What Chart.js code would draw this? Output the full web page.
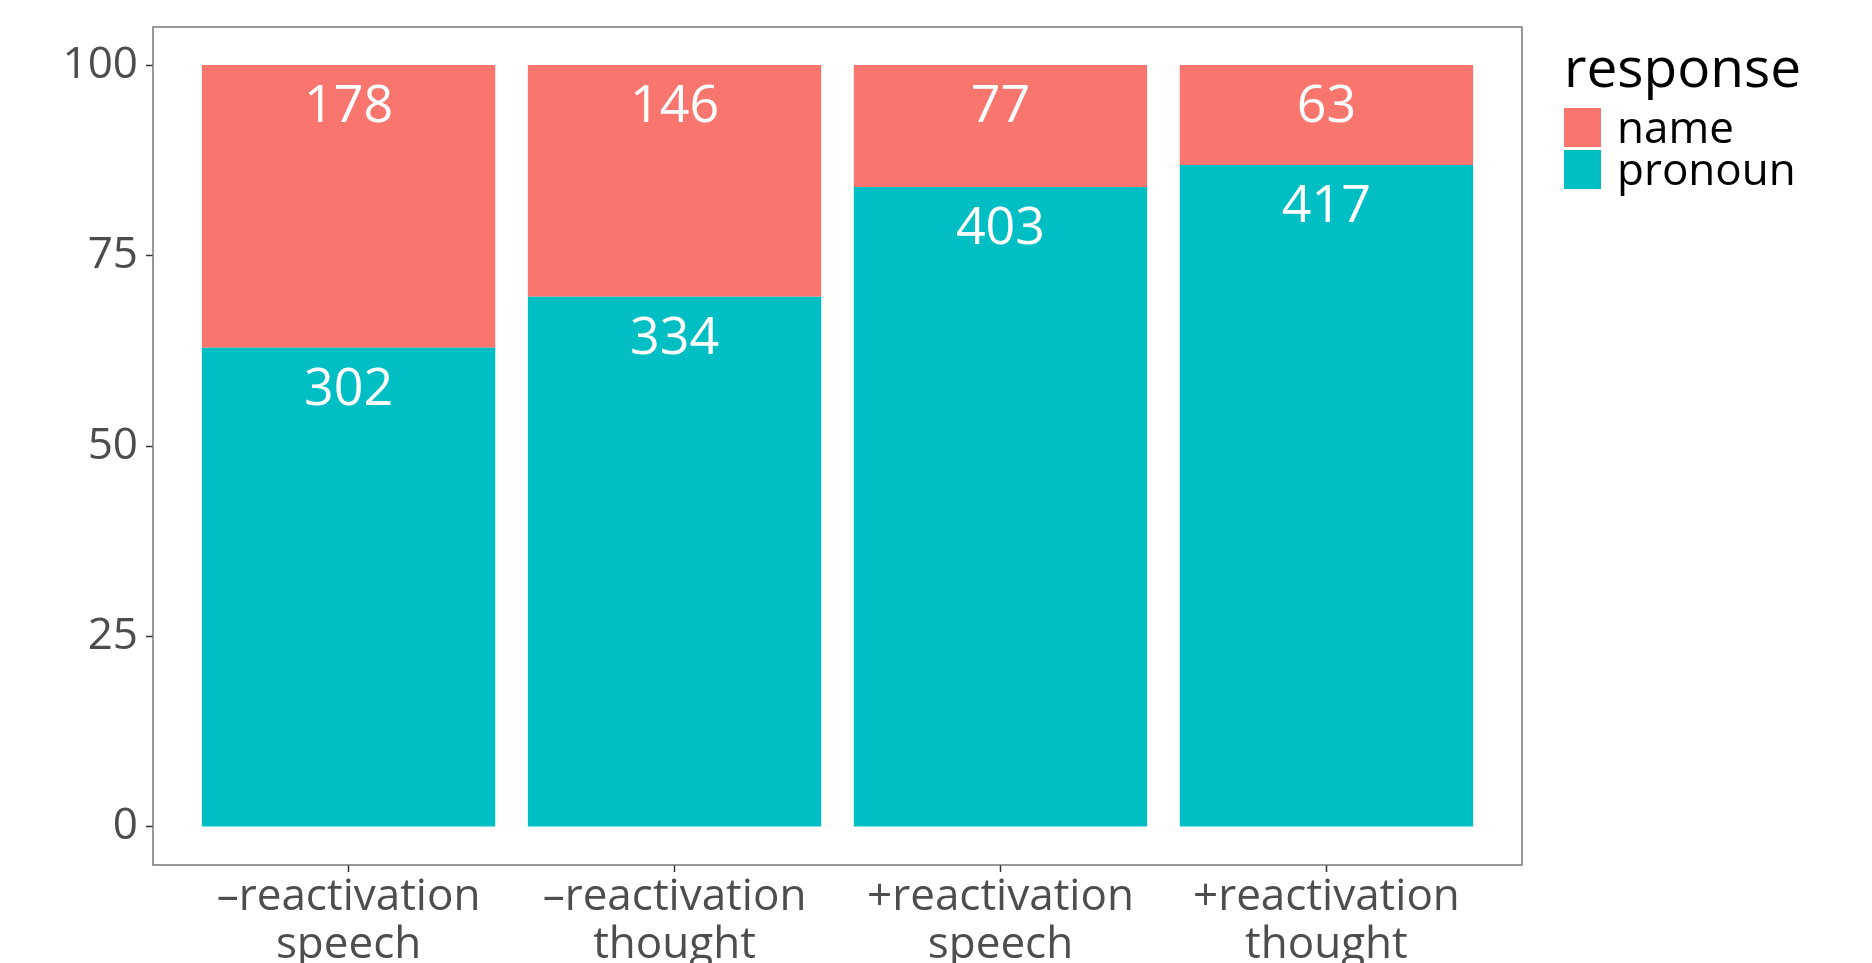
<!DOCTYPE html>
<html>
<head>
<meta charset="utf-8">
<script src="https://cdn.jsdelivr.net/npm/chart.js@4"></script>
<style>
  body { margin: 0; background: #fff; }
  #wrap { width: 1872px; height: 963px; }
</style>
</head>
<body>
<div id="wrap"><canvas id="chart" width="1872" height="963"></canvas></div>
<script>
// data
const categories = [["\u2013reactivation", "speech"], ["\u2013reactivation", "thought"], ["+reactivation", "speech"], ["+reactivation", "thought"]];
const pronounPct = [62.9, 69.6, 84.0, 86.9];
const namePct = [37.1, 30.4, 16.0, 13.1];
const pronounCount = [302, 334, 403, 417];
const nameCount = [178, 146, 77, 63];
const yTicks = [0, 25, 50, 75, 100];

const tickGrey = "#4D4D4D";

function toPoints(vals) {
    return vals.map((v, i) => ({ x: i + 1, y: v }));
}

// zahlen in die balken
const barLabels = {
    id: "barLabels",
    afterDatasetsDraw(chart) {
        const ctx = chart.ctx;
        ctx.save();
        ctx.fillStyle = "#fff";
        ctx.font = "52px 'Open Sans'";
        ctx.textAlign = "center";
        ctx.textBaseline = "alphabetic";
        chart.data.datasets.forEach((ds, di) => {
            const meta = chart.getDatasetMeta(di);
            meta.data.forEach((el, i) => {
                ctx.fillText(String(ds.counts[i]), el.x, el.y + 57);
            });
        });
        ctx.restore();
    }
};

// rahmen ums panel
const panelBorder = {
    id: "panelBorder",
    afterDraw(chart) {
        const a = chart.chartArea;
        const ctx = chart.ctx;
        ctx.save();
        ctx.strokeStyle = "#6E6E6E";
        ctx.lineWidth = 1.4;
        ctx.strokeRect(a.left, a.top, a.right - a.left, a.bottom - a.top);
        ctx.restore();
    }
};

// legende rechts, wie bei ggplot
const sideLegend = {
    id: "sideLegend",
    afterDraw(chart) {
        const ctx = chart.ctx;
        const x = 1564;
        ctx.save();
        ctx.fillStyle = "#000";
        ctx.textAlign = "left";
        ctx.textBaseline = "alphabetic";
        ctx.font = "55px 'Open Sans'";
        ctx.fillText("response", x, 87);
        const order = [1, 0]; // name oben, pronoun unten
        order.forEach((di, k) => {
            const ds = chart.data.datasets[di];
            const top = 108 + k * 42;
            ctx.fillStyle = ds.backgroundColor;
            ctx.fillRect(x, top, 37, 39);
            ctx.fillStyle = "#000";
            ctx.font = "44px 'Open Sans'";
            ctx.fillText(ds.label, x + 53, top + 35);
        });
        ctx.restore();
    }
};

new Chart(document.getElementById("chart"), {
    type: "bar",
    data: {
        datasets: [
            { label: "pronoun", data: toPoints(pronounPct), counts: pronounCount, backgroundColor: "#00BFC4" },
            { label: "name", data: toPoints(namePct), counts: nameCount, backgroundColor: "#F8766D" }
        ]
    },
    options: {
        responsive: false,
        animation: false,
        layout: { padding: { top: 27, right: 350, left: 0, bottom: 0 } },
        datasets: { bar: { barPercentage: 0.9, categoryPercentage: 1.0 } },
        plugins: {
            legend: { display: false },
            tooltip: { enabled: false }
        },
        scales: {
            x: {
                type: "linear",
                stacked: true,
                offset: false,
                min: 0.4,
                max: 4.6,
                afterBuildTicks: s => { s.ticks = [1, 2, 3, 4].map(v => ({ value: v })); },
                afterFit: s => { s.height = 98; s.paddingLeft = 0; s.paddingRight = 0; },
                grid: { display: true, offset: false, drawOnChartArea: false, tickLength: 7, tickColor: "#333", tickWidth: 1.5 },
                border: { display: false },
                ticks: {
                    color: tickGrey,
                    font: { family: "Open Sans", size: 44, lineHeight: 1.08 },
                    padding: 2,
                    maxRotation: 0,
                    autoSkip: false,
                    callback: v => categories[v - 1]
                }
            },
            y: {
                stacked: true,
                min: -5,
                max: 105,
                afterBuildTicks: s => { s.ticks = yTicks.map(v => ({ value: v })); },
                afterFit: s => { s.width = 153; s.paddingTop = 0; s.paddingBottom = 0; },
                grid: { display: true, drawOnChartArea: false, tickLength: 7, tickColor: "#333", tickWidth: 1.5 },
                border: { display: false },
                ticks: {
                    color: tickGrey,
                    font: { family: "Open Sans", size: 44 },
                    padding: 8
                }
            }
        }
    },
    plugins: [barLabels, panelBorder, sideLegend]
});
</script>
</body>
</html>
